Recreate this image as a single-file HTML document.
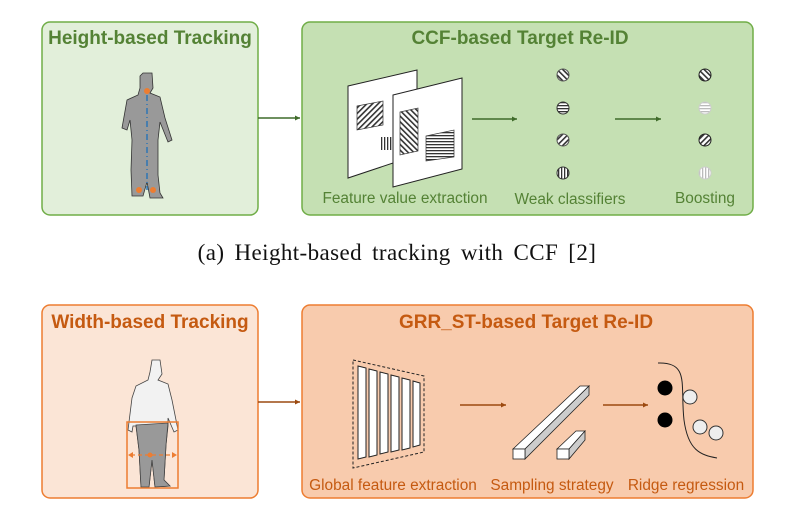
<!DOCTYPE html>
<html><head><style>body{margin:0;background:#fff}svg{display:block}</style></head><body>
<svg width="793" height="510" viewBox="0 0 793 510" xmlns="http://www.w3.org/2000/svg" font-family="Liberation Sans, sans-serif">
<defs>
<pattern id="pd" width="4" height="4" patternUnits="userSpaceOnUse" patternTransform="rotate(45)"><rect width="4" height="4" fill="#fff"/><rect width="1.6" height="4" fill="#333"/></pattern>
<pattern id="pd2" width="4" height="4" patternUnits="userSpaceOnUse" patternTransform="rotate(-45)"><rect width="4" height="4" fill="#fff"/><rect width="1.6" height="4" fill="#333"/></pattern>
<pattern id="ph" width="4" height="3" patternUnits="userSpaceOnUse"><rect width="4" height="3" fill="#fff"/><rect width="4" height="1.3" fill="#333"/></pattern>
<pattern id="pv" width="3" height="4" patternUnits="userSpaceOnUse"><rect width="3" height="4" fill="#fff"/><rect width="1.3" height="4" fill="#333"/></pattern>
<pattern id="phl" width="4" height="3" patternUnits="userSpaceOnUse"><rect width="4" height="3" fill="#fff"/><rect width="4" height="1.3" fill="#bbb"/></pattern>
<pattern id="pvl" width="3" height="4" patternUnits="userSpaceOnUse"><rect width="3" height="4" fill="#fff"/><rect width="1.3" height="4" fill="#bbb"/></pattern>
<marker id="ag" markerWidth="6" markerHeight="6" refX="5" refY="3" orient="auto" markerUnits="userSpaceOnUse"><path d="M0,0.5 L5,3 L0,5.5z" fill="#3f6b2a"/></marker>
<marker id="ao" markerWidth="6" markerHeight="6" refX="5" refY="3" orient="auto" markerUnits="userSpaceOnUse"><path d="M0,0.5 L5,3 L0,5.5z" fill="#9c4a10"/></marker>
</defs>
<!-- top -->
<rect x="42" y="22" width="216" height="193" rx="8" fill="#e2efda" stroke="#70ad47" stroke-width="1.5"/>
<rect x="302" y="22" width="451" height="193" rx="8" fill="#c5e0b3" stroke="#70ad47" stroke-width="1.5"/>
<text x="150" y="44" text-anchor="middle" font-size="19" font-weight="bold" fill="#548235">Height-based Tracking</text>
<text x="520" y="44" text-anchor="middle" font-size="19" font-weight="bold" fill="#548235">CCF-based Target Re-ID</text>
<line x1="258" y1="118" x2="300" y2="118" stroke="#3f6b2a" stroke-width="1.5" marker-end="url(#ag)"/>
<polygon points="143,73 152,73 153,88 150,93 160,97 165,118 172,140 168,142 160,122 158,140 158,175 160,193 163,198 150,198 147,182 143,196 132,196 131,170 132,140 130,120 127,130 122,128 127,100 138,95 140,88 140,76" fill="#999" stroke="#333" stroke-width="0.8"/>
<line x1="147" y1="95" x2="147" y2="190" stroke="#2e75b6" stroke-width="1.5" stroke-dasharray="6,3,1,3"/>
<circle cx="147" cy="91" r="3" fill="#ed7d31"/><circle cx="139" cy="190" r="3" fill="#ed7d31"/><circle cx="153" cy="190" r="3" fill="#ed7d31"/>
<polygon points="348,86 417,70 417,155 348,178" fill="#fff" stroke="#222"/>
<polygon points="357,106 383,101 383,125 357,130" fill="url(#pd)" stroke="#333" stroke-width="0.7"/>
<rect x="381" y="137" width="11" height="13" fill="url(#pv)"/>
<polygon points="393,95 462,78 462,169 393,187" fill="#fff" stroke="#222"/>
<polygon points="400,112 418,108 418,151 400,155" fill="url(#pd2)" stroke="#333" stroke-width="0.7"/>
<polygon points="426,136 454,130 454,157 426,161" fill="url(#ph)" stroke="#333" stroke-width="0.7"/>
<line x1="472" y1="119" x2="517" y2="119" stroke="#3f6b2a" stroke-width="1.5" marker-end="url(#ag)"/>
<line x1="615" y1="119" x2="661" y2="119" stroke="#3f6b2a" stroke-width="1.5" marker-end="url(#ag)"/>
<circle cx="563" cy="75" r="6" fill="url(#pd2)" stroke="#555"/>
<circle cx="563" cy="108" r="6" fill="url(#ph)" stroke="#333"/>
<circle cx="563" cy="140" r="6" fill="url(#pd)" stroke="#555"/>
<circle cx="563" cy="173" r="6" fill="url(#pv)" stroke="#333"/>
<circle cx="705" cy="75" r="6" fill="url(#pd2)" stroke="#222"/>
<circle cx="705" cy="108" r="6" fill="url(#phl)" stroke="#ccc"/>
<circle cx="705" cy="140" r="6" fill="url(#pd)" stroke="#222"/>
<circle cx="705" cy="173" r="6" fill="url(#pvl)" stroke="#ccc"/>
<g font-size="15.4" fill="#548235" text-anchor="middle">
<text x="405" y="203">Feature value extraction</text><text x="570" y="204">Weak classifiers</text><text x="705" y="203">Boosting</text></g>
<text x="397" y="260" text-anchor="middle" font-family="Liberation Serif, serif" font-size="23" letter-spacing="0.4" word-spacing="4" fill="#111">(a) Height-based tracking with CCF [2]</text>
<!-- bottom -->
<rect x="42" y="305" width="216" height="193" rx="8" fill="#fbe5d6" stroke="#ed7d31" stroke-width="1.5"/>
<rect x="302" y="305" width="451" height="193" rx="8" fill="#f8cbad" stroke="#ed7d31" stroke-width="1.5"/>
<text x="150" y="328" text-anchor="middle" font-size="19" font-weight="bold" fill="#c55a11">Width-based Tracking</text>
<text x="526" y="328" text-anchor="middle" font-size="19" font-weight="bold" fill="#c55a11">GRR_ST-based Target Re-ID</text>
<line x1="258" y1="402" x2="300" y2="402" stroke="#9c4a10" stroke-width="1.5" marker-end="url(#ao)"/>
<polygon points="152,360 160,360 162,374 158,380 168,384 172,400 178,430 174,432 168,418 168,426 166,445 164,480 170,486 155,487 152,460 149,487 141,487 139,450 136,426 133,426 132,432 128,430 132,398 136,386 148,380 150,372" fill="#f2f2f2" stroke="#444" stroke-width="0.8"/>
<polygon points="136,425 168,423 166,445 164,480 170,486 155,487 152,460 149,487 141,487 139,450" fill="#999" stroke="#444" stroke-width="0.8"/>
<rect x="127" y="422" width="51" height="66" fill="none" stroke="#ed7d31" stroke-width="1.5"/>
<line x1="131" y1="455" x2="174" y2="455" stroke="#ed7d31" stroke-width="1.3" stroke-dasharray="4,3"/>
<path d="M128,455 l5,-3 v6z M177,455 l-5,-3 v6z" fill="#ed7d31"/><circle cx="150" cy="455" r="2.5" fill="#ed7d31"/>
<polygon points="353,360 424,376 424,452 353,468" fill="none" stroke="#222" stroke-dasharray="3,2"/>
<g fill="#fff" stroke="#222">
<polygon points="358,366 366,368 366,457 358,459"/><polygon points="369,369 377,371 377,455 369,457"/><polygon points="380,372 388,374 388,452 380,454"/><polygon points="391,375 399,377 399,450 391,452"/><polygon points="402,378 410,380 410,448 402,450"/><polygon points="413,381 420,383 420,445 413,447"/></g>
<line x1="460" y1="405" x2="506" y2="405" stroke="#9c4a10" stroke-width="1.5" marker-end="url(#ao)"/>
<line x1="603" y1="405" x2="648" y2="405" stroke="#9c4a10" stroke-width="1.5" marker-end="url(#ao)"/>
<g stroke="#222" stroke-width="0.8">
<polygon points="513,449 580,386 589,386 525,449" fill="#fff"/>
<polygon points="525,449 589,386 589,395 525,459" fill="#ccc"/>
<rect x="513" y="449" width="12" height="10" fill="#fff"/>
<polygon points="557,449 576,431 585,431 569,449" fill="#fff"/>
<polygon points="569,449 585,431 585,440 569,459" fill="#ccc"/>
<rect x="557" y="449" width="12" height="10" fill="#fff"/></g>
<path d="M658,363 C690,362 680,385 684,420 C688,450 700,455 717,458" fill="none" stroke="#222" stroke-width="1"/>
<circle cx="665" cy="388" r="7.5" fill="#000"/><circle cx="665" cy="420" r="7.5" fill="#000"/>
<circle cx="690" cy="397" r="7" fill="#eee" stroke="#333"/><circle cx="700" cy="427" r="7" fill="#eee" stroke="#333"/><circle cx="716" cy="433" r="7" fill="#eee" stroke="#333"/>
<g font-size="15.4" fill="#c55a11" text-anchor="middle">
<text x="393" y="490">Global feature extraction</text><text x="552" y="490">Sampling strategy</text><text x="686" y="490">Ridge regression</text></g>
</svg>
</body></html>
